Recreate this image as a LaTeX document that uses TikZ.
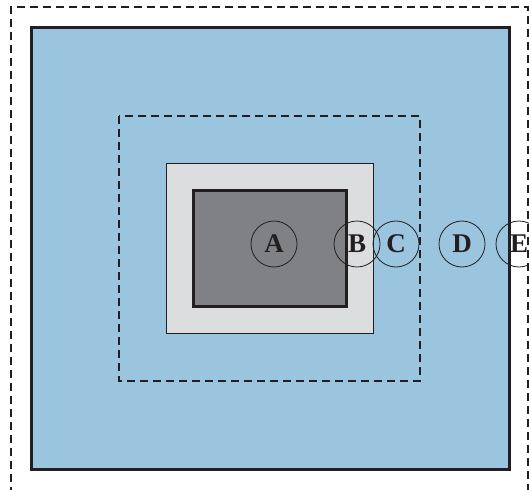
\documentclass[tikz,border=0pt]{standalone}
\usepackage{fontspec}
\setmainfont{Liberation Serif}
\definecolor{bluefill}{HTML}{9BC4DE}
\definecolor{lightfill}{HTML}{DCDDDF}
\definecolor{darkfill}{HTML}{808185}
\definecolor{edge}{HTML}{231F20}
\begin{document}
\begin{tikzpicture}[x=1pt,y=-1pt,
  thickbox/.style={draw=edge,line width=3pt},
  thinbox/.style={draw=edge,line width=1pt},
  dashbox/.style={draw=edge,line width=1.2pt,dash pattern=on 8pt off 5pt},
  lab/.style={circle,draw=edge,line width=0.8pt,minimum size=46pt,inner sep=0pt,
     font=\fontsize{27}{27}\selectfont\bfseries,text=edge}]
\useasboundingbox (0,0) rectangle (529,489);
\clip (0,0) rectangle (529,489);
\fill[white] (0,0) rectangle (529,489);
\draw[dashbox] (11,495) -- (11,7) -- (528,7) -- (528,495);
\path[thickbox,fill=bluefill] (31,28) rectangle (509,469);
\draw[dashbox] (119,116) rectangle (420,381);
\path[thinbox,fill=lightfill] (166,163) rectangle (373,333);
\path[thickbox,fill=darkfill] (193,190) rectangle (346,306);
\node[lab] (A) at (274,244) {A};
\node[lab] (B) at (357,244) {B};
\node[lab] (C) at (396,244) {C};
\node[lab] (D) at (462,244) {D};
\node[lab] (E) at (519,244) {E};
\end{tikzpicture}
\end{document}
